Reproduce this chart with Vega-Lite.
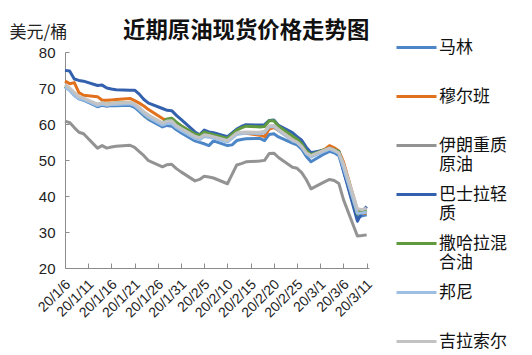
{
  "$schema": "https://vega.github.io/schema/vega-lite/v6.json",
  "width": 304,
  "height": 216,
  "autosize": {"type": "none"},
  "padding": {"left": 65, "top": 52, "right": 163, "bottom": 87},
  "background": "white",
  "title": {"text": "近期原油现货价格走势图", "font": "Noto Sans CJK SC", "fontSize": 22.4, "fontWeight": "bold", "color": "#111111", "anchor": "start", "dx": 114, "dy": 33, "offset": 14},
  "datasets": {
    "wide": [
      {"d":"2020-01-06","马林":70.4,"穆尔班":71.9,"伊朗重质原油":60.8,"巴士拉轻质":74.9,"撒哈拉混合油":70.5,"邦尼":70.2,"吉拉索尔":71.0},
      {"d":"2020-01-07","马林":69.5,"穆尔班":71.2,"伊朗重质原油":60.4,"巴士拉轻质":74.7,"撒哈拉混合油":69.6,"邦尼":69.3,"吉拉索尔":70.0},
      {"d":"2020-01-08","马林":68.0,"穆尔班":71.5,"伊朗重质原油":59.0,"巴士拉轻质":72.5,"撒哈拉混合油":68.3,"邦尼":67.9,"吉拉索尔":68.8},
      {"d":"2020-01-09","马林":67.0,"穆尔班":68.7,"伊朗重质原油":57.7,"巴士拉轻质":72.1,"撒哈拉混合油":67.3,"邦尼":67.0,"吉拉索尔":67.6},
      {"d":"2020-01-10","马林":66.6,"穆尔班":68.0,"伊朗重质原油":57.3,"巴士拉轻质":71.9,"撒哈拉混合油":67.0,"邦尼":66.8,"吉拉索尔":67.2},
      {"d":"2020-01-13","马林":64.8,"穆尔班":67.6,"伊朗重质原油":53.3,"巴士拉轻质":70.7,"撒哈拉混合油":65.4,"邦尼":65.1,"吉拉索尔":65.5},
      {"d":"2020-01-14","马林":65.2,"穆尔班":66.6,"伊朗重质原油":54.0,"巴士拉轻质":70.8,"撒哈拉混合油":65.8,"邦尼":65.5,"吉拉索尔":65.9},
      {"d":"2020-01-15","马林":64.9,"穆尔班":66.6,"伊朗重质原油":53.3,"巴士拉轻质":70.0,"撒哈拉混合油":65.5,"邦尼":65.2,"吉拉索尔":65.4},
      {"d":"2020-01-16","马林":65.1,"穆尔班":66.7,"伊朗重质原油":53.6,"巴士拉轻质":69.7,"撒哈拉混合油":65.7,"邦尼":65.4,"吉拉索尔":65.7},
      {"d":"2020-01-17","马林":65.1,"穆尔班":66.8,"伊朗重质原油":53.8,"巴士拉轻质":69.5,"撒哈拉混合油":65.8,"邦尼":65.4,"吉拉索尔":65.8},
      {"d":"2020-01-20","马林":65.2,"穆尔班":67.1,"伊朗重质原油":54.1,"巴士拉轻质":69.4,"撒哈拉混合油":65.9,"邦尼":65.6,"吉拉索尔":66.0},
      {"d":"2020-01-21","马林":64.6,"穆尔班":66.5,"伊朗重质原油":53.5,"巴士拉轻质":69.4,"撒哈拉混合油":65.4,"邦尼":65.1,"吉拉索尔":65.6},
      {"d":"2020-01-22","马林":63.5,"穆尔班":65.8,"伊朗重质原油":52.3,"巴士拉轻质":68.3,"撒哈拉混合油":64.0,"邦尼":64.0,"吉拉索尔":64.6},
      {"d":"2020-01-23","马林":62.3,"穆尔班":65.0,"伊朗重质原油":51.2,"巴士拉轻质":66.8,"撒哈拉混合油":62.8,"邦尼":62.8,"吉拉索尔":63.4},
      {"d":"2020-01-24","马林":61.3,"穆尔班":64.0,"伊朗重质原油":49.8,"巴士拉轻质":65.8,"撒哈拉混合油":61.7,"邦尼":61.8,"吉拉索尔":62.5},
      {"d":"2020-01-27","马林":59.2,"穆尔班":61.5,"伊朗重质原油":48.1,"巴士拉轻质":64.3,"撒哈拉混合油":60.3,"邦尼":59.7,"吉拉索尔":60.3},
      {"d":"2020-01-28","马林":59.6,"穆尔班":61.1,"伊朗重质原油":48.7,"巴士拉轻质":63.8,"撒哈拉混合油":61.4,"邦尼":60.2,"吉拉索尔":60.8},
      {"d":"2020-01-29","马林":59.4,"穆尔班":60.9,"伊朗重质原油":48.8,"巴士拉轻质":63.7,"撒哈拉混合油":61.6,"邦尼":60.1,"吉拉索尔":60.9},
      {"d":"2020-01-30","马林":58.4,"穆尔班":60.3,"伊朗重质原油":47.6,"巴士拉轻质":62.4,"撒哈拉混合油":60.5,"邦尼":59.0,"吉拉索尔":59.6},
      {"d":"2020-01-31","马林":57.6,"穆尔班":59.5,"伊朗重质原油":46.7,"巴士拉轻质":61.3,"撒哈拉混合油":59.5,"邦尼":58.2,"吉拉索尔":58.8},
      {"d":"2020-02-03","马林":55.3,"穆尔班":57.0,"伊朗重质原油":44.2,"巴士拉轻质":57.8,"撒哈拉混合油":57.2,"邦尼":56.0,"吉拉索尔":56.6},
      {"d":"2020-02-04","马林":54.9,"穆尔班":56.4,"伊朗重质原油":44.6,"巴士拉轻质":57.0,"撒哈拉混合油":56.9,"邦尼":55.6,"吉拉索尔":56.2},
      {"d":"2020-02-05","马林":54.5,"穆尔班":57.3,"伊朗重质原油":45.5,"巴士拉轻质":58.3,"撒哈拉混合油":57.8,"邦尼":56.5,"吉拉索尔":57.0},
      {"d":"2020-02-06","马林":54.0,"穆尔班":57.0,"伊朗重质原油":45.3,"巴士拉轻质":57.8,"撒哈拉混合油":57.4,"邦尼":56.3,"吉拉索尔":56.8},
      {"d":"2020-02-07","马林":55.3,"穆尔班":56.6,"伊朗重质原油":45.0,"巴士拉轻质":57.6,"撒哈拉混合油":57.0,"邦尼":56.1,"吉拉索尔":56.5},
      {"d":"2020-02-10","马林":54.0,"穆尔班":55.6,"伊朗重质原油":43.4,"巴士拉轻质":56.5,"撒哈拉混合油":56.0,"邦尼":55.0,"吉拉索尔":55.4},
      {"d":"2020-02-11","马林":54.2,"穆尔班":56.6,"伊朗重质原油":46.0,"巴士拉轻质":57.5,"撒哈拉混合油":57.2,"邦尼":56.0,"吉拉索尔":56.5},
      {"d":"2020-02-12","马林":55.4,"穆尔班":57.4,"伊朗重质原油":48.6,"巴士拉轻质":58.6,"撒哈拉混合油":58.3,"邦尼":57.1,"吉拉索尔":57.5},
      {"d":"2020-02-13","马林":55.7,"穆尔班":57.6,"伊朗重质原油":49.0,"巴士拉轻质":59.3,"撒哈拉混合油":58.9,"邦尼":57.3,"吉拉索尔":57.7},
      {"d":"2020-02-14","马林":55.9,"穆尔班":57.4,"伊朗重质原油":49.5,"巴士拉轻质":59.8,"撒哈拉混合油":59.4,"邦尼":57.5,"吉拉索尔":57.8},
      {"d":"2020-02-17","马林":56.0,"穆尔班":56.9,"伊朗重质原油":49.7,"巴士拉轻质":59.7,"撒哈拉混合油":59.2,"邦尼":57.3,"吉拉索尔":57.7},
      {"d":"2020-02-18","马林":55.4,"穆尔班":56.5,"伊朗重质原油":49.9,"巴士拉轻质":59.8,"撒哈拉混合油":59.3,"邦尼":57.6,"吉拉索尔":58.0},
      {"d":"2020-02-19","马林":57.1,"穆尔班":58.6,"伊朗重质原油":51.8,"巴士拉轻质":61.0,"撒哈拉混合油":60.9,"邦尼":59.2,"吉拉索尔":59.5},
      {"d":"2020-02-20","马林":57.3,"穆尔班":59.0,"伊朗重质原油":51.9,"巴士拉轻质":61.1,"撒哈拉混合油":60.9,"邦尼":59.3,"吉拉索尔":59.6},
      {"d":"2020-02-21","马林":56.4,"穆尔班":58.2,"伊朗重质原油":50.7,"巴士拉轻质":59.6,"撒哈拉混合油":59.4,"邦尼":58.2,"吉拉索尔":58.5},
      {"d":"2020-02-24","马林":54.7,"穆尔班":55.7,"伊朗重质原油":48.0,"巴士拉轻质":57.6,"撒哈拉混合油":56.7,"邦尼":55.3,"吉拉索尔":55.6},
      {"d":"2020-02-25","马林":54.2,"穆尔班":55.0,"伊朗重质原油":47.7,"巴士拉轻质":56.5,"撒哈拉混合油":55.8,"邦尼":54.8,"吉拉索尔":55.0},
      {"d":"2020-02-26","马林":53.0,"穆尔班":53.9,"伊朗重质原油":46.5,"巴士拉轻质":55.5,"撒哈拉混合油":54.5,"邦尼":53.6,"吉拉索尔":53.8},
      {"d":"2020-02-27","马林":51.0,"穆尔班":52.2,"伊朗重质原油":44.5,"巴士拉轻质":53.5,"撒哈拉混合油":52.5,"邦尼":51.8,"吉拉索尔":52.0},
      {"d":"2020-02-28","马林":49.5,"穆尔班":51.4,"伊朗重质原油":42.0,"巴士拉轻质":52.0,"撒哈拉混合油":51.5,"邦尼":50.8,"吉拉索尔":51.2},
      {"d":"2020-03-02","马林":51.8,"穆尔班":53.0,"伊朗重质原油":44.0,"巴士拉轻质":52.8,"撒哈拉混合油":52.9,"邦尼":52.5,"吉拉索尔":52.8},
      {"d":"2020-03-03","马林":52.4,"穆尔班":54.0,"伊朗重质原油":44.6,"巴士拉轻质":53.1,"撒哈拉混合油":53.3,"邦尼":53.0,"吉拉索尔":53.3},
      {"d":"2020-03-04","马林":52.0,"穆尔班":53.4,"伊朗重质原油":44.3,"巴士拉轻质":52.8,"撒哈拉混合油":52.9,"邦尼":52.5,"吉拉索尔":52.8},
      {"d":"2020-03-05","马林":51.2,"穆尔班":52.5,"伊朗重质原油":43.5,"巴士拉轻质":52.4,"撒哈拉混合油":52.3,"邦尼":51.8,"吉拉索尔":52.0},
      {"d":"2020-03-06","马林":47.0,"穆尔班":49.5,"伊朗重质原油":39.0,"巴士拉轻质":47.0,"撒哈拉混合油":48.5,"邦尼":47.8,"吉拉索尔":49.0},
      {"d":"2020-03-09","马林":34.0,"穆尔班":36.0,"伊朗重质原油":28.9,"巴士拉轻质":33.0,"撒哈拉混合油":35.0,"邦尼":35.2,"吉拉索尔":36.5},
      {"d":"2020-03-10","马林":34.5,"穆尔班":35.3,"伊朗重质原油":29.0,"巴士拉轻质":35.5,"撒哈拉混合油":36.0,"邦尼":35.3,"吉拉索尔":36.2},
      {"d":"2020-03-11","马林":34.8,"穆尔班":35.2,"伊朗重质原油":29.2,"巴士拉轻质":37.1,"撒哈拉混合油":35.8,"邦尼":35.5,"吉拉索尔":36.6}
    ]
  },
  "data": {"name": "wide", "format": {"parse": {"d": "date:'%Y-%m-%d'"}}},
  "transform": [
    {"fold": ["马林","穆尔班","伊朗重质原油","巴士拉轻质","撒哈拉混合油","邦尼","吉拉索尔"], "as": ["series", "price"]}
  ],
  "mark": {"type": "line", "strokeWidth": 3, "strokeJoin": "round", "clip": false},
  "encoding": {
    "x": {
      "field": "d", "type": "temporal",
      "scale": {"domain": [{"year": 2020, "month": 1, "date": 6}, {"year": 2020, "month": 3, "date": 11, "hours": 12}]},
      "axis": {
        "title": null,
        "format": "%y/%-m/%-d",
        "values": [
          {"year": 2020, "month": 1, "date": 6}, {"year": 2020, "month": 1, "date": 11}, {"year": 2020, "month": 1, "date": 16},
          {"year": 2020, "month": 1, "date": 21}, {"year": 2020, "month": 1, "date": 26}, {"year": 2020, "month": 1, "date": 31},
          {"year": 2020, "month": 2, "date": 5}, {"year": 2020, "month": 2, "date": 10}, {"year": 2020, "month": 2, "date": 15},
          {"year": 2020, "month": 2, "date": 20}, {"year": 2020, "month": 2, "date": 25}, {"year": 2020, "month": 3, "date": 1},
          {"year": 2020, "month": 3, "date": 6}, {"year": 2020, "month": 3, "date": 11}
        ],
        "labelAngle": -45,
        "labelAlign": "right",
        "labelBaseline": "middle",
        "labelFont": "Liberation Sans",
        "labelFontSize": 14,
        "labelColor": "#222222",
        "labelPadding": 19,
        "labelOffset": 3,
        "labelOverlap": false,
        "labelBound": false,
        "labelFlush": false,
        "tickSize": -5,
        "tickColor": "#8c8c8c",
        "domainColor": "#8c8c8c",
        "grid": false
      }
    },
    "y": {
      "field": "price", "type": "quantitative",
      "scale": {"domain": [20, 80], "nice": false, "zero": false},
      "axis": {
        "title": "美元/桶",
        "titleAngle": 0,
        "titleAlign": "left",
        "titleBaseline": "middle",
        "titleX": -56,
        "titleY": -20,
        "titleFont": "Noto Sans CJK SC",
        "titleFontSize": 17,
        "titleFontWeight": "normal",
        "titleColor": "#222222",
        "values": [20, 30, 40, 50, 60, 70, 80],
        "labelFont": "Liberation Sans",
        "labelFontSize": 15,
        "labelColor": "#222222",
        "labelPadding": 14,
        "tickSize": -4,
        "tickColor": "#8c8c8c",
        "domainColor": "#8c8c8c",
        "grid": false
      }
    },
    "color": {
      "field": "series", "type": "nominal",
      "scale": {
        "domain": ["马林","穆尔班","伊朗重质原油","巴士拉轻质","撒哈拉混合油","邦尼","吉拉索尔"],
        "range": ["#4C86C6","#E2711D","#939393","#3461AE","#5F9A3F","#9EBFE3","#C3C3C3"]
      },
      "legend": {
        "title": null,
        "orient": "none",
        "legendX": 330,
        "legendY": -26,
        "symbolType": "stroke",
        "symbolSize": 1600,
        "symbolStrokeWidth": 3,
        "labelFont": "Noto Sans CJK SC",
        "labelFontSize": 17,
        "labelColor": "#111111",
        "labelLineHeight": 21,
        "labelBaseline": "middle",
        "labelLimit": 200,
        "labelOffset": 1,
        "rowPadding": 0,
        "gridAlign": "all",
        "labelExpr": "datum.label == '伊朗重质原油' ? ['伊朗重质','原油'] : datum.label == '巴士拉轻质' ? ['巴士拉轻','质'] : datum.label == '撒哈拉混合油' ? ['撒哈拉混','合油'] : datum.label"
      }
    }
  },
  "config": {"view": {"stroke": null}}
}
